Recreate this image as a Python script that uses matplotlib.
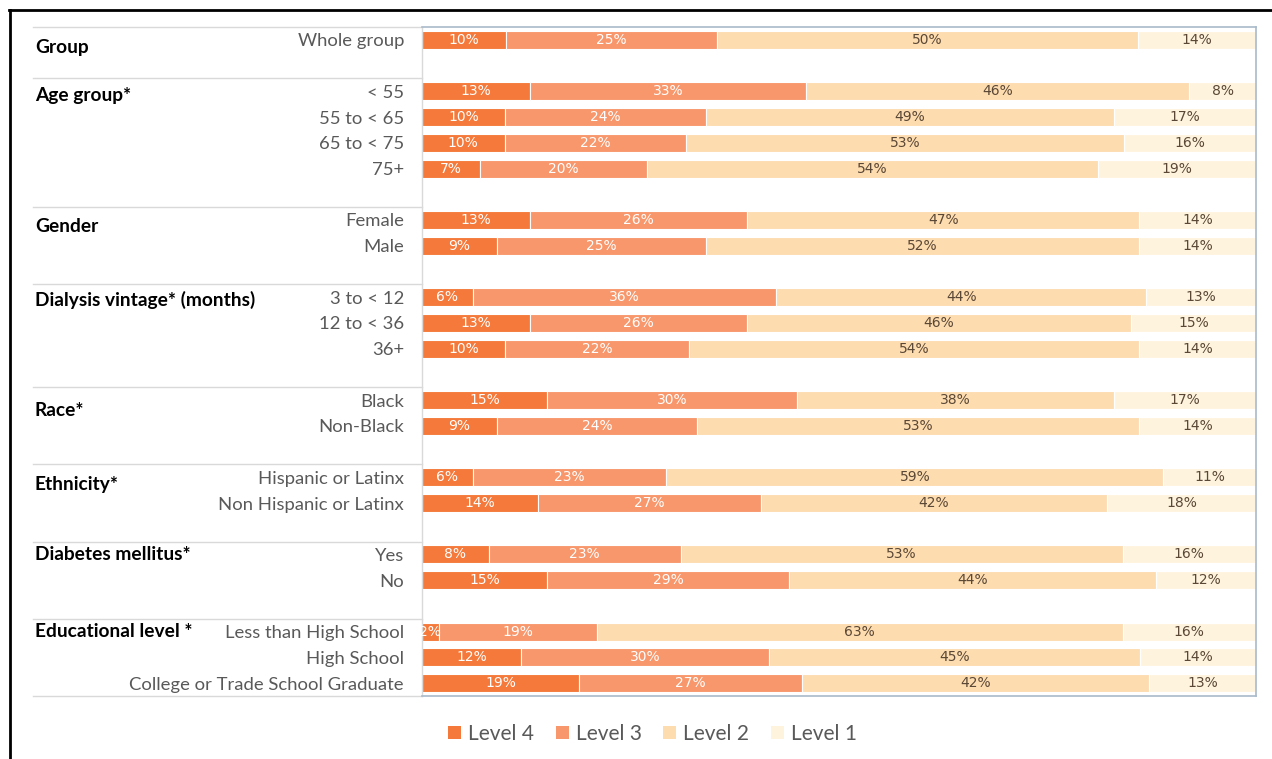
import numpy as np
import matplotlib.pyplot as plt
from matplotlib.patches import Patch
from matplotlib.lines import Line2D
from matplotlib.transforms import blended_transform_factory

# group headings and the rows under each
groups = ["Group", "Age group*", "Gender", "Dialysis vintage* (months)",
          "Race*", "Ethnicity*", "Diabetes mellitus*", "Educational level *"]
categories = [
    ["Whole group"],
    ["< 55", "55 to < 65", "65 to < 75", "75+"],
    ["Female", "Male"],
    ["3 to < 12", "12 to < 36", "36+"],
    ["Black", "Non-Black"],
    ["Hispanic or Latinx", "Non Hispanic or Latinx"],
    ["Yes", "No"],
    ["Less than High School", "High School", "College or Trade School Graduate"],
]

# percentages per row, same order as categories flattened
level4 = [10, 13, 10, 10, 7, 13, 9, 6, 13, 10, 15, 9, 6, 14, 8, 15, 2, 12, 19]
level3 = [25, 33, 24, 22, 20, 26, 25, 36, 26, 22, 30, 24, 23, 27, 23, 29, 19, 30, 27]
level2 = [50, 46, 49, 53, 54, 47, 52, 44, 46, 54, 38, 53, 59, 42, 53, 44, 63, 45, 42]
level1 = [14, 8, 17, 16, 19, 14, 14, 13, 15, 14, 17, 14, 11, 18, 16, 12, 16, 14, 13]

level_names = ["Level 4", "Level 3", "Level 2", "Level 1"]
colors = ["#F5793A", "#F8976C", "#FDDCB0", "#FEF4DE"]
text_colors = ["white", "white", "#5A4735", "#5A4735"]

# heading offset from its first row (in rows), just to sit like the original
head_offset = [0.3, 0.15, 0.25, 0.12, 0.4, 0.28, 0.0, 0.0]

plt.rcParams['font.family'] = ['Lato', 'DejaVu Sans']

fig = plt.figure(figsize=(12.72, 7.59), dpi=100)
ax = fig.add_axes([422 / 1272, 1 - 696 / 759, (1256 - 422) / 1272, (696 - 27) / 759])

# row positions: one blank slot between groups
ypos = []
labels = []
group_start = []
slot = 0
for g, cats in enumerate(categories):
    group_start.append(slot)
    for c in cats:
        ypos.append(slot)
        labels.append(c)
        slot += 1
    if g < len(categories) - 1:
        slot += 1
ypos = np.array(ypos)

data = np.array([level4, level3, level2, level1], dtype=float)
share = data / data.sum(axis=0) * 100

left = np.zeros(len(ypos))
for k in range(4):
    ax.barh(ypos, share[k], left=left, height=0.7, color=colors[k],
            edgecolor="white", linewidth=0.8, label=level_names[k])
    for i, y in enumerate(ypos):
        ax.text(left[i] + share[k][i] / 2, y, "%d%%" % data[k][i],
                ha="center", va="center", fontsize=10, color=text_colors[k],
                family="DejaVu Sans")
    left += share[k]

ax.set_xlim(0, 100)
ax.set_ylim(slot - 0.5, -0.5)
ax.set_xticks([])
ax.set_yticks(ypos, labels)
ax.tick_params(axis="y", length=0, pad=13, labelsize=13.3, labelcolor="#595959")

for side in ["top", "right", "bottom"]:
    ax.spines[side].set_color("#A9BACB")
    ax.spines[side].set_linewidth(1.2)
ax.spines["left"].set_color("#D9D9D9")
ax.spines["left"].set_linewidth(1)

# group headings and separator lines in the label column
tr = blended_transform_factory(fig.transFigure, ax.transData)
for g, name in enumerate(groups):
    ax.text(35 / 1272, group_start[g] + head_offset[g], name, transform=tr,
            ha="left", va="center", fontsize=13.8, fontweight="bold", color="black")
    ax.add_line(Line2D([33 / 1272, 422 / 1272], [group_start[g] - 0.5] * 2,
                       transform=tr, color="#D9D9D9", lw=1, clip_on=False))
ax.add_line(Line2D([33 / 1272, 422 / 1272], [slot - 0.5] * 2,
                   transform=tr, color="#D9D9D9", lw=1, clip_on=False))

handles = [Patch(facecolor=colors[k], edgecolor="none") for k in range(4)]
fig.legend(handles, level_names, loc="center", bbox_to_anchor=(0.513, 0.033),
           ncol=4, frameon=False, fontsize=15, labelcolor="#595959",
           handlelength=0.62, handleheight=0.62, handletextpad=0.34, columnspacing=1.05)

# outer frame (top and left only)
fig.add_artist(Line2D([9 / 1272, 1], [1 - 10 / 759] * 2, transform=fig.transFigure,
                      color="black", lw=2))
fig.add_artist(Line2D([10 / 1272] * 2, [0, 1 - 10 / 759], transform=fig.transFigure,
                      color="black", lw=2))

fig.savefig("out.png", dpi=100)
